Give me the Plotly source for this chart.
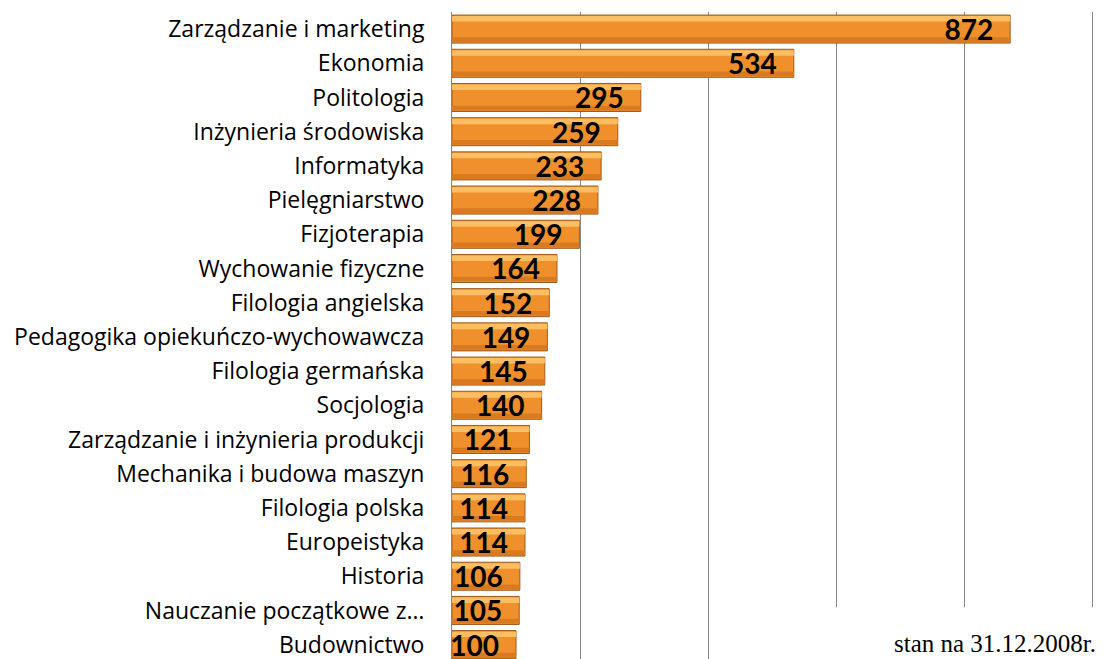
import plotly.graph_objects as go

categories = [
    "Zarządzanie i marketing", "Ekonomia", "Politologia", "Inżynieria środowiska",
    "Informatyka", "Pielęgniarstwo", "Fizjoterapia", "Wychowanie fizyczne",
    "Filologia angielska", "Pedagogika opiekuńczo-wychowawcza", "Filologia germańska",
    "Socjologia", "Zarządzanie i inżynieria produkcji", "Mechanika i budowa maszyn",
    "Filologia polska", "Europeistyka", "Historia", "Nauczanie początkowe z…", "Budownictwo",
]
values = [872, 534, 295, 259, 233, 228, 199, 164, 152, 149, 145, 140, 121, 116, 114, 114, 106, 105, 100]
note = "stan na 31.12.2008r."

fig = go.Figure()
# base bar
fig.add_trace(go.Bar(
    y=categories, x=values, orientation="h", width=0.82,
    marker=dict(color="#F0902C", line=dict(color="#9C5A1E", width=1)),
    hoverinfo="skip", showlegend=False,
))
# light highlight band near the top
fig.add_trace(go.Bar(
    y=categories, x=values, orientation="h", width=0.16, offset=-0.38,
    marker=dict(color="#FBBE62", line=dict(width=0)),
    hoverinfo="skip", showlegend=False,
))
# darker band near the bottom
fig.add_trace(go.Bar(
    y=categories, x=values, orientation="h", width=0.14, offset=0.24,
    marker=dict(color="#D97A20", line=dict(width=0)),
    hoverinfo="skip", showlegend=False,
))
# value labels
fig.add_trace(go.Bar(
    y=categories, x=values, orientation="h", width=0.82,
    marker=dict(color="rgba(0,0,0,0)", line=dict(width=0)),
    text=[str(v) for v in values], texttemplate="%{text}\u2002",
    textposition="inside", insidetextanchor="end", constraintext="none",
    textfont=dict(family="Lato", size=28, color="black", weight="bold"),
    hoverinfo="skip", showlegend=False, cliponaxis=False,
))

fig.update_layout(
    width=1096, height=651,
    margin=dict(l=444, r=10, t=4, b=0),
    barmode="overlay",
    plot_bgcolor="white", paper_bgcolor="white",
    xaxis=dict(range=[0, 1003], showticklabels=False, showgrid=True,
               gridcolor="#868686", gridwidth=1, zeroline=False,
               tickvals=[0, 200, 400, 600, 800, 1000]),
    yaxis=dict(type="category", range=[18.42, -0.5], showline=True,
               linecolor="#868686", linewidth=1, ticks="",
               ticklabelstandoff=22,
               tickfont=dict(family="Open Sans", size=23, color="black")),
    shapes=[dict(type="rect", xref="paper", yref="paper", x0=0.59, x1=1.05,
                 y0=-0.01, y1=0.08, fillcolor="white", line=dict(width=0), layer="above")],
    annotations=[dict(text=note, xref="paper", yref="paper", x=1, y=0.0,
                      xanchor="right", yanchor="bottom", xshift=4, showarrow=False,
                      font=dict(family="Liberation Serif", size=25, color="black"))],
)

fig.write_html("out.html")
